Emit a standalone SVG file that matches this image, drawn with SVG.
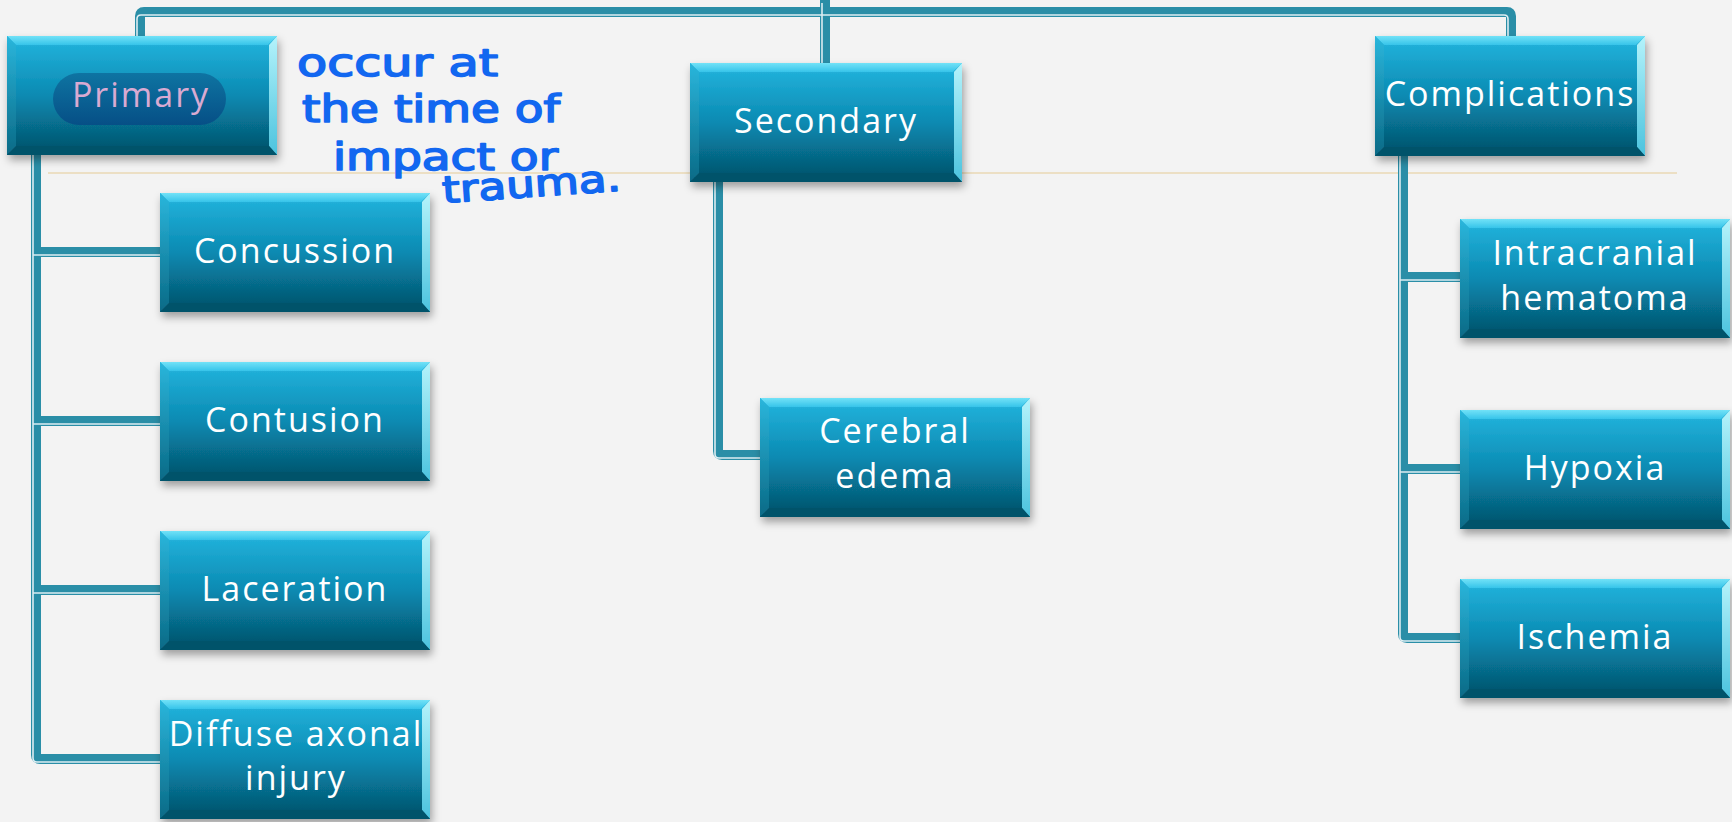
<svg xmlns="http://www.w3.org/2000/svg" xmlns:xlink="http://www.w3.org/1999/xlink" width="1732" height="822" viewBox="0 0 1732 822">
<style>
.bg{fill:#f3f3f3}
.tan{fill:none;stroke:#ead9b5;stroke-width:1.6}
.ln{fill:none;stroke:#2a8ea7;stroke-width:10;stroke-linejoin:round}
.st{fill:none;stroke:#dcedf2;stroke-width:1.6}
.lbl{fill:#ffffff;font-family:"Open Sans","DejaVu Sans",sans-serif;font-size:34px;letter-spacing:2px;text-anchor:middle}
.prim{fill:#d9aad2}
.hw{fill:#1267f0;stroke:#1267f0;stroke-width:1.6;stroke-linejoin:round;font-family:"DejaVu Sans",sans-serif;font-size:37px}
</style>
<defs>
<linearGradient id="face" x1="0" y1="0" x2="0" y2="1">
<stop offset="0" stop-color="#20afd8"/>
<stop offset="0.5" stop-color="#0a8ab2"/>
<stop offset="1" stop-color="#045872"/>
</linearGradient>
<linearGradient id="topBev" x1="0" y1="0" x2="0" y2="1">
<stop offset="0" stop-color="#72e2f7"/>
<stop offset="1" stop-color="#36c4ea"/>
</linearGradient>
<linearGradient id="leftBev" x1="0" y1="0" x2="0" y2="1">
<stop offset="0" stop-color="#2ab6dc"/>
<stop offset="1" stop-color="#0a6a86"/>
</linearGradient>
<linearGradient id="rightBev" x1="0" y1="0" x2="0" y2="1">
<stop offset="0" stop-color="#b4f3fb"/>
<stop offset="1" stop-color="#4cc3de"/>
</linearGradient>
<linearGradient id="pill" x1="0" y1="0" x2="0" y2="1">
<stop offset="0" stop-color="#0e74a2"/>
<stop offset="1" stop-color="#064f86"/>
</linearGradient>
<filter id="sh" x="-10%" y="-15%" width="125%" height="140%">
<feDropShadow dx="2" dy="5" stdDeviation="4" flood-color="#000" flood-opacity="0.35"/>
</filter>
<symbol id="box" viewBox="0 0 270 119" preserveAspectRatio="none">
<rect x="0" y="0" width="270" height="119" fill="url(#face)"/>
<polygon points="0,0 270,0 261,9 9,9" fill="url(#topBev)"/>
<polygon points="0,0 9,9 9,110 0,119" fill="url(#leftBev)"/>
<polygon points="270,0 270,119 262,110 262,9" fill="url(#rightBev)"/>
<polygon points="0,119 9,110 262,110 270,119" fill="#06536a"/>
<rect x="9" y="9" width="253" height="101" fill="url(#face)"/>
</symbol>
</defs>
<rect class="bg" x="0" y="0" width="1732" height="822"/>
<path class="tan" d="M48,173 H1677"/>
<g id="connectors">
<g id="lines">
<path class="ln" d="M140,40 V16 Q140,12 144,12 H1507 Q1511,12 1511,16 V40"/>
<path class="ln" d="M825,0 V66"/>
<path class="ln" d="M36,150 V755 Q36,759 40,759 H165"/>
<path class="ln" d="M36,252 H165"/>
<path class="ln" d="M36,421 H165"/>
<path class="ln" d="M36,590 H165"/>
<path class="ln" d="M718,176 V451 Q718,455 722,455 H765"/>
<path class="ln" d="M1403,150 V634 Q1403,638 1407,638 H1465"/>
<path class="ln" d="M1403,277 H1465"/>
<path class="ln" d="M1403,469 H1465"/>
</g>
<g id="stripes" transform="translate(-3,3)">
<path class="st" d="M140,40 V16 Q140,12 144,12 H1507 Q1511,12 1511,16 V40"/>
<path class="st" d="M825,0 V66"/>
<path class="st" d="M36,150 V755 Q36,759 40,759 H165"/>
<path class="st" d="M36,252 H165"/>
<path class="st" d="M36,421 H165"/>
<path class="st" d="M36,590 H165"/>
<path class="st" d="M718,176 V451 Q718,455 722,455 H765"/>
<path class="st" d="M1403,150 V634 Q1403,638 1407,638 H1465"/>
<path class="st" d="M1403,277 H1465"/>
<path class="st" d="M1403,469 H1465"/>
</g>
</g>
<g id="primary">
<use href="#box" x="7" y="36" width="270" height="119" filter="url(#sh)"/>
<rect x="53" y="73" width="173" height="52" rx="26" fill="url(#pill)"/>
<text class="lbl prim" x="141" y="107">Primary</text>
</g>
<g id="secondary">
<use href="#box" x="690" y="63" width="272" height="119" filter="url(#sh)"/>
<text class="lbl" x="826" y="133">Secondary</text>
</g>
<g id="complications">
<use href="#box" x="1375" y="36" width="270" height="120" filter="url(#sh)"/>
<text class="lbl" x="1510" y="106">Complications</text>
</g>
<g id="concussion">
<use href="#box" x="160" y="193" width="270" height="119" filter="url(#sh)"/>
<text class="lbl" x="295" y="263">Concussion</text>
</g>
<g id="contusion">
<use href="#box" x="160" y="362" width="270" height="119" filter="url(#sh)"/>
<text class="lbl" x="295" y="432">Contusion</text>
</g>
<g id="laceration">
<use href="#box" x="160" y="531" width="270" height="119" filter="url(#sh)"/>
<text class="lbl" x="295" y="601">Laceration</text>
</g>
<g id="diffuse">
<use href="#box" x="160" y="700" width="270" height="119" filter="url(#sh)"/>
<text class="lbl" x="296" y="746">Diffuse axonal</text>
<text class="lbl" x="296" y="790">injury</text>
</g>
<g id="cerebral">
<use href="#box" x="760" y="398" width="270" height="119" filter="url(#sh)"/>
<text class="lbl" x="895" y="443">Cerebral</text>
<text class="lbl" x="895" y="488">edema</text>
</g>
<g id="intracranial">
<use href="#box" x="1460" y="219" width="270" height="119" filter="url(#sh)"/>
<text class="lbl" x="1595" y="265">Intracranial</text>
<text class="lbl" x="1595" y="310">hematoma</text>
</g>
<g id="hypoxia">
<use href="#box" x="1460" y="410" width="270" height="119" filter="url(#sh)"/>
<text class="lbl" x="1595" y="480">Hypoxia</text>
</g>
<g id="ischemia">
<use href="#box" x="1460" y="579" width="270" height="119" filter="url(#sh)"/>
<text class="lbl" x="1595" y="649">Ischemia</text>
</g>
<g id="annotation">
<text class="hw" x="297" y="76" textLength="201" lengthAdjust="spacingAndGlyphs">occur at</text>
<text class="hw" x="302" y="122" textLength="258" lengthAdjust="spacingAndGlyphs">the time of</text>
<text class="hw" x="333" y="170" textLength="225" lengthAdjust="spacingAndGlyphs">impact or</text>
<text class="hw" x="443" y="203" textLength="179" lengthAdjust="spacingAndGlyphs" transform="rotate(-4 443 203)">trauma.</text>
</g>
</svg>
